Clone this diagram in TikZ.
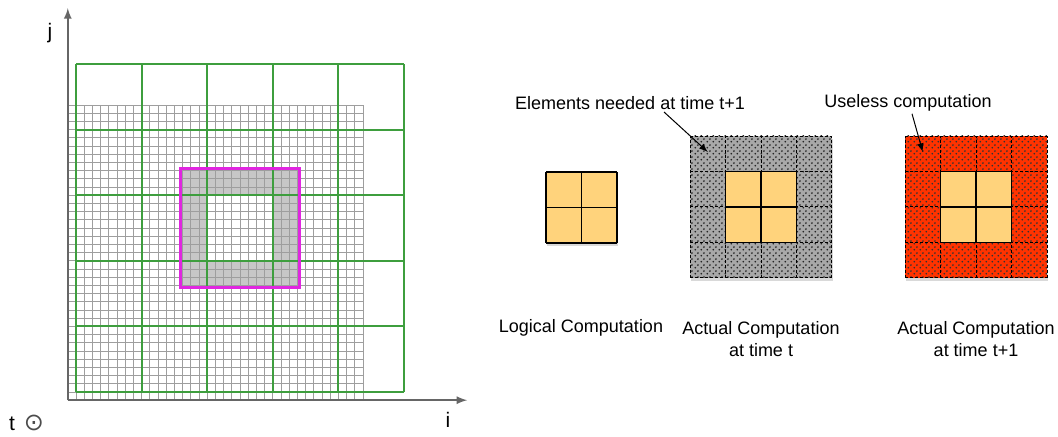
\documentclass[tikz,border=0pt]{standalone}
\usepackage{fontspec}
\setmainfont{Liberation Sans}
\newfontfamily\dejavu{DejaVu Sans}
\usetikzlibrary{arrows,patterns,shadows}
\definecolor{tilegreen}{HTML}{3E9E3E}
\definecolor{haloviolet}{HTML}{E026E0}
\definecolor{logicorange}{HTML}{FFD37C}
\definecolor{uselessred}{HTML}{FF3300}
\definecolor{neededgray}{HTML}{A8A8A8}

% dotted checker used for the extra cells
\pgfdeclarepatternformonly{checkdots}{\pgfpointorigin}{\pgfpoint{2.8pt}{2.8pt}}{\pgfpoint{2.8pt}{2.8pt}}{
  \pgfpathcircle{\pgfpoint{0.7pt}{0.7pt}}{0.5pt}
  \pgfpathcircle{\pgfpoint{2.1pt}{2.1pt}}{0.5pt}
  \pgfusepath{fill}
}

\begin{document}
\begin{tikzpicture}[
    x=0.5pt, y=0.5pt,
    font=\fontsize{9}{11}\selectfont,
    lbl/.style={inner sep=1pt, align=center},
    axislbl/.style={inner sep=1pt, font=\fontsize{10.5}{12}\selectfont},
    axis/.style={draw=black!60, line width=0.8pt, -latex},
    pointer/.style={draw, -latex, line width=0.5pt},
    finegrid/.style={draw=black!38, line width=0.4pt},
    tilegrid/.style={draw=tilegreen, line width=1pt},
    halo/.style={fill=black!22},
    halobox/.style={draw=haloviolet, line width=1.1pt},
    boxshadow/.style={drop shadow={shadow xshift=0.6pt, shadow yshift=-1.5pt, opacity=0.3}},
    logical/.style={fill=logicorange},
    needed/.style={boxshadow, preaction={fill=neededgray}, pattern=checkdots, pattern color=black!85},
    useless/.style={boxshadow, preaction={fill=uselessred}, pattern=checkdots, pattern color=black!80},
    cellline/.style={draw, line width=0.55pt},
    dashcell/.style={draw, line width=0.5pt, dash pattern=on 1.5pt off 1pt}
]
\useasboundingbox (0,0) rectangle (1058,437);

% left: iteration space with tiles
\begin{scope}[shift={(76,45)}, x=4.1pt, y=4.1pt]
  \fill[halo, even odd rule] (13,13) rectangle (27,27) (16,16) rectangle (24,24);
  \draw[finegrid] (-1,-1) grid[step=1] (35,35);
  \draw[tilegrid] (0,0) grid[step=8] (40,40);
  \draw[halobox] (12.75,12.75) rectangle (27.25,27.25);
  \coordinate (origin) at (-1,-1);
  \coordinate (jtip) at (-1,46.8);
  \coordinate (itip) at (47.7,-1);
\end{scope}
\draw[axis] (origin) -- (jtip);
\draw[axis] (origin) -- (itip);

\node[axislbl] (jlbl) at (50,404) {j};
\node[axislbl] (ilbl) at (448,17) {i};
\node[axislbl] (tlbl) at (12,13) {t};
\node[axislbl, text=black!70] (tdir) at (34,14) {\dejavu\fontsize{12}{12}\selectfont ⊙};

% right: logical vs actual computation
\begin{scope}[shift={(546,194)}, x=17.75pt, y=17.75pt]
  \fill[logical, boxshadow] (0,0) rectangle (2,2);
  \draw[cellline] (0,0) grid[step=1] (2,2);
\end{scope}

\begin{scope}[shift={(690,159)}, x=17.75pt, y=17.75pt]
  \fill[needed] (0,0) rectangle (4,4);
  \draw[dashcell] (0,0) grid[step=1] (4,4);
  \fill[logical] (1,1) rectangle (3,3);
  \draw[cellline] (1,1) grid[step=1] (3,3);
  \coordinate (neededcell) at (0.5,3.55);
\end{scope}

\begin{scope}[shift={(905,159)}, x=17.75pt, y=17.75pt]
  \fill[useless] (0,0) rectangle (4,4);
  \draw[dashcell] (0,0) grid[step=1] (4,4);
  \fill[logical] (1,1) rectangle (3,3);
  \draw[cellline] (1,1) grid[step=1] (3,3);
  \coordinate (uselesscell) at (0.5,3.55);
\end{scope}

\node[lbl] (needlbl) at (630,334) {Elements needed at time t+1};
\node[lbl] (uselbl) at (908,334) {Useless computation};
\draw[pointer] ([xshift=17pt]needlbl.south) -- (neededcell);
\draw[pointer] ([xshift=2pt]uselbl.south) -- (uselesscell);

\node[lbl] (logiclbl) at (581,109) {Logical Computation};
\node[lbl] (actlbl) at (761,98) {Actual Computation\\at time t};
\node[lbl] (nextlbl) at (976,98) {Actual Computation\\at time t+1};

\end{tikzpicture}
\end{document}
